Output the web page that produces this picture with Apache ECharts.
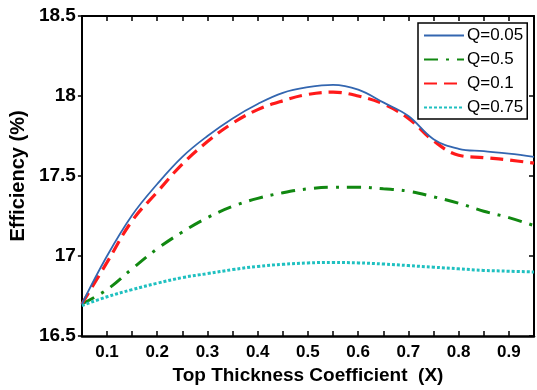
<!DOCTYPE html>
<html>
<head>
<meta charset="utf-8">
<script src="https://cdn.jsdelivr.net/npm/echarts@6/dist/echarts.min.js"></script>
<style>
  html, body { margin: 0; padding: 0; background: #fff; }
  #chart { width: 537px; height: 390px; }
</style>
</head>
<body>
<div id="chart"></div>
<script>
// top thickness coefficient X
var xValues = [0.05, 0.1, 0.15, 0.2, 0.25, 0.3, 0.35, 0.4, 0.45, 0.5, 0.55, 0.6, 0.65, 0.7, 0.75, 0.8, 0.85, 0.9, 0.95];

// efficiency (%) for each Q
var q005 = [16.70, 17.00, 17.255, 17.45, 17.62, 17.75, 17.86, 17.95, 18.02, 18.055, 18.07, 18.04, 17.96, 17.875, 17.73, 17.67, 17.655, 17.64, 17.62];
var q05  = [16.70, 16.79, 16.92, 17.045, 17.15, 17.24, 17.31, 17.36, 17.395, 17.42, 17.43, 17.43, 17.42, 17.405, 17.37, 17.33, 17.28, 17.24, 17.19];
var q01  = [16.70, 16.96, 17.22, 17.40, 17.575, 17.715, 17.83, 17.915, 17.97, 18.01, 18.024, 18.00, 17.95, 17.86, 17.72, 17.63, 17.615, 17.60, 17.58];
var q075 = [16.69, 16.745, 16.79, 16.83, 16.865, 16.89, 16.915, 16.935, 16.948, 16.957, 16.96, 16.957, 16.95, 16.94, 16.93, 16.92, 16.91, 16.905, 16.90];

var xTicks = [0.1, 0.2, 0.3, 0.4, 0.5, 0.6, 0.7, 0.8, 0.9];

function pairs(ys) {
    return xValues.map(function (x, i) { return [x, ys[i]]; });
}

var font = 'Liberation Sans, Arial, sans-serif';
var chart = echarts.init(document.getElementById('chart'));

chart.setOption({
    animation: false,
    grid: { left: 78, top: 16, width: 462, height: 322 },
    legend: {
        orient: 'vertical',
        left: 418,
        top: 23,
        itemWidth: 40,
        itemHeight: 12,
        itemGap: 7,
        padding: [4, 4, 3, 5],
        borderColor: '#000',
        borderWidth: 1.5,
        backgroundColor: '#fff',
        itemStyle: { opacity: 0 },
        textStyle: { fontFamily: font, fontSize: 17, color: '#000', padding: [0, 0, 0, -2] },
        data: ['Q=0.05', 'Q=0.5', 'Q=0.1', 'Q=0.75']
    },
    xAxis: [{
        type: 'value',
        min: 0.05,
        max: 0.95,
        interval: 0.05,
        name: 'Top Thickness Coefficient  (X)',
        nameLocation: 'middle',
        nameGap: 30,
        nameTextStyle: { fontFamily: font, fontSize: 19, fontWeight: 'bold', color: '#000' },
        axisLine: { lineStyle: { color: '#000', width: 2.5 } },
        axisTick: { inside: true, length: 5, lineStyle: { color: '#000', width: 1.5 },
            interval: function (v) { return xTicks.indexOf(Math.round(v * 100) / 100) >= 0; } },
        axisLabel: {
            fontFamily: font, fontSize: 17, fontWeight: 'bold', color: '#000', margin: 8,
            formatter: function (v) {
                var r = Math.round(v * 100) / 100;
                return xTicks.indexOf(r) >= 0 ? String(r) : '';
            }
        },
        splitLine: { show: false }
    }, {
        type: 'value',
        position: 'top',
        min: 0.05,
        max: 0.95,
        interval: 0.05,
        axisLine: { lineStyle: { color: '#000', width: 2 } },
        axisTick: { inside: true, length: 5, lineStyle: { color: '#000', width: 1.5 },
            interval: function (v) { return xTicks.indexOf(Math.round(v * 100) / 100) >= 0; } },
        axisLabel: { show: false },
        splitLine: { show: false }
    }],
    yAxis: [{
        type: 'value',
        min: 16.5,
        max: 18.5,
        interval: 0.5,
        name: 'Efficiency (%)',
        nameLocation: 'middle',
        nameGap: 50,
        nameTextStyle: { fontFamily: font, fontSize: 20, fontWeight: 'bold', color: '#000' },
        axisLine: { lineStyle: { color: '#000', width: 2 } },
        axisTick: { length: 4, lineStyle: { color: '#000', width: 1.5 } },
        axisLabel: { fontFamily: font, fontSize: 19, fontWeight: 'bold', color: '#000', margin: 6 },
        splitLine: { show: false }
    }, {
        type: 'value',
        position: 'right',
        min: 16.5,
        max: 18.5,
        interval: 0.5,
        axisLine: { show: true, lineStyle: { color: '#000', width: 2 } },
        axisTick: { inside: true, length: 5, lineStyle: { color: '#000', width: 1.5 } },
        axisLabel: { show: false },
        splitLine: { show: false }
    }],
    series: [{
        name: 'Q=0.05',
        type: 'line',
        data: pairs(q005),
        smooth: 0.4,
        symbol: 'none',
        itemStyle: { color: '#3366b0' },
        lineStyle: { color: '#3366b0', width: 1.8, type: 'solid' },
        z: 4
    }, {
        name: 'Q=0.5',
        type: 'line',
        data: pairs(q05),
        smooth: 0.4,
        symbol: 'none',
        itemStyle: { color: '#118811' },
        lineStyle: { color: '#118811', width: 3, type: [14, 8, 3, 8] }
    }, {
        name: 'Q=0.1',
        type: 'line',
        data: pairs(q01),
        smooth: 0.4,
        symbol: 'none',
        itemStyle: { color: '#ff1a1a' },
        lineStyle: { color: '#ff1a1a', width: 3.2, type: [13, 7] },
        z: 3
    }, {
        name: 'Q=0.75',
        type: 'line',
        data: pairs(q075),
        smooth: 0.4,
        symbol: 'none',
        itemStyle: { color: '#1fc0c0' },
        lineStyle: { color: '#1fc0c0', width: 3, type: [3, 2] }
    }]
});
</script>
</body>
</html>
